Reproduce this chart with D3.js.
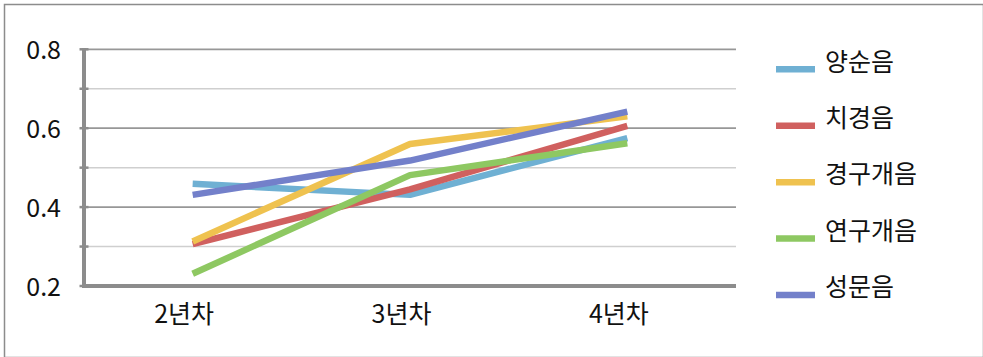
<!DOCTYPE html>
<html>
<head>
<meta charset="utf-8">
<script src="https://cdn.jsdelivr.net/npm/d3@7"></script>
<style>
  html, body { margin: 0; padding: 0; background: #fff; }
  svg { display: block; }
  text { font-family: "Noto Sans CJK KR", "Noto Sans", sans-serif; fill: #111; }
</style>
</head>
<body>
<svg id="chart" width="983" height="357"></svg>
<script>
// Categories (years of study) and per-place-of-articulation scores
const categories = ["2년차", "3년차", "4년차"];
const seriesNames = ["양순음", "치경음", "경구개음", "연구개음", "성문음"];
const seriesColors = ["#6fb0d3", "#d0605f", "#efc24f", "#8ec862", "#7380ca"];
const bilabial  = [0.459, 0.431, 0.575];
const alveolar  = [0.306, 0.445, 0.606];
const palatal   = [0.313, 0.560, 0.630];
const velar     = [0.231, 0.481, 0.562];
const glottal   = [0.431, 0.518, 0.642];
const majorTicks = [0.2, 0.4, 0.6, 0.8];
const minorTicks = [0.3, 0.5, 0.7];

const seriesValues = [bilabial, alveolar, palatal, velar, glottal];

const svg = d3.select("#chart");

// Outer frame
svg.append("rect")
  .attr("x", 4.5).attr("y", 4.5)
  .attr("width", 979).attr("height", 353)
  .attr("fill", "none").attr("stroke", "#8c8c8c").attr("stroke-width", 1.5);

const plot = { left: 84, right: 736, top: 49.3, bottom: 286 };

const x = d3.scalePoint()
  .domain(categories)
  .range([plot.left, plot.right])
  .padding(0.5);

const y = d3.scaleLinear()
  .domain([0.2, 0.8])
  .range([plot.bottom, plot.top]);

// Minor gridlines
svg.append("g").selectAll("line").data(minorTicks).join("line")
  .attr("x1", plot.left).attr("x2", plot.right)
  .attr("y1", d => y(d)).attr("y2", d => y(d))
  .attr("stroke", "#cfcfcf").attr("stroke-width", 1.5);

// Major gridlines
svg.append("g").selectAll("line").data(majorTicks.filter(d => d > 0.2)).join("line")
  .attr("x1", plot.left).attr("x2", plot.right)
  .attr("y1", d => y(d)).attr("y2", d => y(d))
  .attr("stroke", "#979797").attr("stroke-width", 1.8);

// Y axis with small cross ticks at every 0.1
const yAxis = d3.axisLeft(y)
  .tickValues(majorTicks)
  .tickFormat(d3.format(".1f"))
  .tickSize(0)
  .tickPadding(10);

const yG = svg.append("g")
  .attr("transform", `translate(${plot.left},0)`)
  .call(yAxis);
yG.select(".domain").remove();
yG.selectAll("text")
  .attr("x", -23)
  .attr("font-size", 25)
  .style("font-size", "25px")
  .attr("text-anchor", "end")
  .attr("dy", "0.36em");

svg.append("g").selectAll("line").data(majorTicks.concat(minorTicks)).join("line")
  .attr("x1", plot.left - 4.5).attr("x2", plot.left + 4.5)
  .attr("y1", d => y(d)).attr("y2", d => y(d))
  .attr("stroke", "#8c8c8c").attr("stroke-width", 2.5);

svg.append("line")
  .attr("x1", plot.left).attr("x2", plot.left)
  .attr("y1", plot.top - 1).attr("y2", plot.bottom + 2)
  .attr("stroke", "#8c8c8c").attr("stroke-width", 4);

// X axis
const xAxis = d3.axisBottom(x).tickSize(0).tickPadding(19);
const xG = svg.append("g")
  .attr("transform", `translate(0,${plot.bottom})`)
  .call(xAxis);
xG.select(".domain").remove();
xG.selectAll("text")
  .attr("font-size", 25)
  .style("font-size", "25px")
  .attr("dx", -9);

svg.append("line")
  .attr("x1", plot.left - 2).attr("x2", plot.right)
  .attr("y1", plot.bottom).attr("y2", plot.bottom)
  .attr("stroke", "#8c8c8c").attr("stroke-width", 4);

// Series lines
const line = d3.line()
  .x((d, i) => x(categories[i]))
  .y(d => y(d));

svg.append("g").selectAll("path").data(seriesValues).join("path")
  .attr("d", line)
  .attr("fill", "none")
  .attr("stroke", (d, i) => seriesColors[i])
  .attr("stroke-width", 6.5)
  .attr("stroke-linejoin", "round")
  .attr("stroke-linecap", "butt");

// Legend
const legend = svg.append("g");
const legendY = d3.scalePoint()
  .domain(seriesNames)
  .range([69.3, 295]);

const items = legend.selectAll("g").data(seriesNames).join("g")
  .attr("transform", d => `translate(0,${legendY(d)})`);
items.append("line")
  .attr("x1", 776).attr("x2", 815)
  .attr("y1", 0).attr("y2", 0)
  .attr("stroke", (d, i) => seriesColors[i])
  .attr("stroke-width", 6.5);
items.append("text")
  .attr("x", 825)
  .attr("y", 0)
  .attr("dy", "0.05em")
  .style("font-size", "25px")
  .text(d => d);
</script>
</body>
</html>
